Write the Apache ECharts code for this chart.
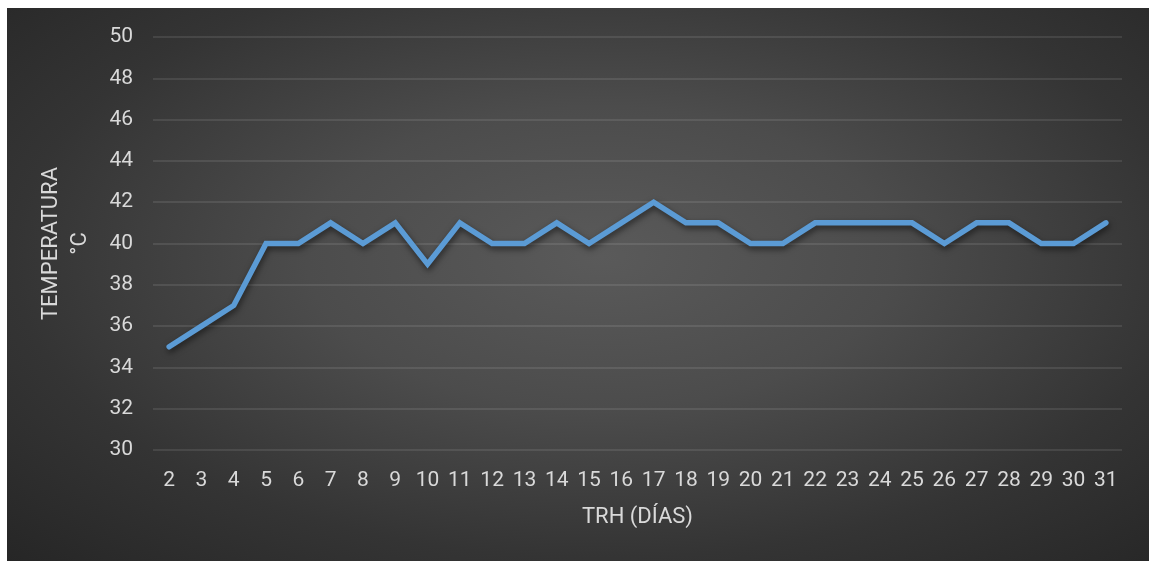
<!DOCTYPE html>
<html>
<head>
<meta charset="utf-8">
<script src="https://cdn.jsdelivr.net/npm/echarts@6/dist/echarts.min.js"></script>
<style>
  html, body { margin: 0; padding: 0; background: #ffffff; }
  #chart {
    position: absolute; left: 7px; top: 8px; width: 1142px; height: 553px;
    background: radial-gradient(ellipse at 52% 45%, #5a5a5a 0%, #4c4c4c 35%, #343434 70%, #262626 100%);
  }
</style>
</head>
<body>
<div id="chart"></div>
<script>
// Días de tratamiento (eje X) y temperatura registrada (°C)
const dias = ['2','3','4','5','6','7','8','9','10','11','12','13','14','15','16','17','18','19','20','21','22','23','24','25','26','27','28','29','30','31'];
const temperatura = [35,36,37,40,40,41,40,41,39,41,40,40,41,40,41,42,41,41,40,40,41,41,41,41,40,41,41,40,40,41];
const yMin = 30, yMax = 50, yStep = 2;

const FONT = 'Roboto, "Noto Sans", sans-serif';
const TXT = '#d9d9d9';

const chart = echarts.init(document.getElementById('chart'), null, { renderer: 'canvas' });
chart.setOption({
  backgroundColor: 'transparent',
  animation: false,
  grid: { left: 146, right: 27, top: 29, bottom: 111, containLabel: false },
  xAxis: {
    type: 'category',
    data: dias,
    boundaryGap: true,
    name: 'TRH (DÍAS)',
    nameLocation: 'middle',
    nameGap: 56,
    nameTextStyle: { color: TXT, fontFamily: FONT, fontSize: 22 },
    axisLine: { show: false },
    axisTick: { show: false },
    axisLabel: { color: TXT, fontFamily: FONT, fontSize: 21, margin: 20, interval: 0 }
  },
  yAxis: {
    type: 'value',
    min: yMin, max: yMax, interval: yStep,
    name: 'TEMPERATURA\n°C',
    nameLocation: 'middle',
    nameRotate: 90,
    nameGap: 58,
    nameTextStyle: { color: TXT, fontFamily: FONT, fontSize: 22, lineHeight: 29 },
    axisLine: { show: false },
    axisTick: { show: false },
    axisLabel: { color: TXT, fontFamily: FONT, fontSize: 21, margin: 20 },
    splitLine: { lineStyle: { color: 'rgba(255,255,255,0.13)', width: 1.5 } }
  },
  series: [{
    type: 'line',
    data: temperatura,
    symbol: 'none',
    lineStyle: {
      color: '#5b9bd5', width: 5.5, cap: 'round', join: 'miter',
      shadowColor: 'rgba(0,0,0,0.55)', shadowBlur: 6, shadowOffsetX: 1, shadowOffsetY: 3
    }
  }]
});
</script>
</body>
</html>
